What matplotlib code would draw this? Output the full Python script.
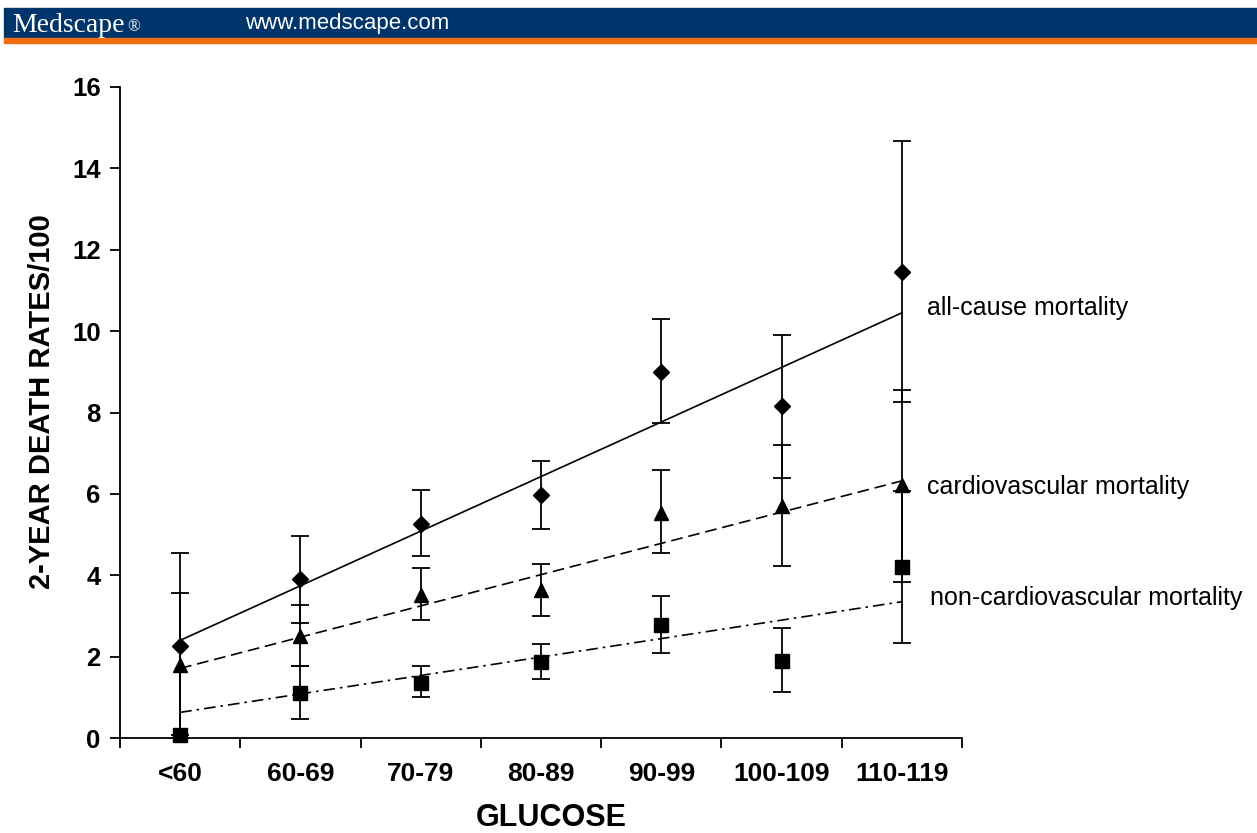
import matplotlib.pyplot as plt
from matplotlib.patches import Rectangle

# glucose categories
categories = ['<60', '60-69', '70-79', '80-89', '90-99', '100-109', '110-119']

# all-cause mortality: rate, lower and upper error bar
allcause = [2.26, 3.90, 5.27, 5.97, 9.00, 8.15, 11.45]
allcause_lo = [0.00, 2.83, 4.47, 5.13, 7.73, 6.40, 8.25]
allcause_hi = [4.54, 4.97, 6.09, 6.81, 10.29, 9.90, 14.67]

# cardiovascular mortality
cardio = [1.79, 2.51, 3.51, 3.64, 5.52, 5.70, 6.22]
cardio_lo = [0.00, 1.77, 2.90, 2.99, 4.54, 4.22, 3.84]
cardio_hi = [3.57, 3.27, 4.17, 4.28, 6.58, 7.20, 8.55]

# non-cardiovascular mortality
noncardio = [0.07, 1.11, 1.34, 1.86, 2.78, 1.90, 4.20]
noncardio_lo = [0.00, 0.46, 1.00, 1.44, 2.08, 1.12, 2.33]
noncardio_hi = [0.07, 1.77, 1.77, 2.31, 3.49, 2.70, 6.07]

# linear trend lines: value at first and last category
allcause_trend = [2.40, 10.45]
cardio_trend = [1.71, 6.32]
noncardio_trend = [0.63, 3.35]

plt.rcParams['font.family'] = ['Liberation Sans', 'DejaVu Sans']

fig = plt.figure(figsize=(12.57, 8.33), dpi=100)

# Medscape header band
fig.patches.append(Rectangle((4 / 1257, 1 - 38 / 833), 1, 30 / 833,
                             transform=fig.transFigure, color='#00356b', zorder=0))
fig.patches.append(Rectangle((4 / 1257, 1 - 43 / 833), 1, 5 / 833,
                             transform=fig.transFigure, color='#f26d12', zorder=0))
fig.text(12 / 1257, 1 - 32 / 833, 'Medscape', color='white', fontsize=20,
         family=['Liberation Serif', 'DejaVu Serif'], va='baseline', ha='left')
fig.text(127 / 1257, 1 - 31 / 833, '\u00ae', color='white', fontsize=12,
         family=['Liberation Serif', 'DejaVu Serif'], va='baseline', ha='left')
fig.text(245 / 1257, 1 - 23 / 833, 'www.medscape.com', color='white', fontsize=16,
         va='center', ha='left')

ax = fig.add_axes([120 / 1257, 1 - 738 / 833, 842 / 1257, 651 / 833])
x = list(range(len(categories)))


def err(vals, lo, hi):
    return [[v - l for v, l in zip(vals, lo)], [h - v for v, h in zip(vals, hi)]]


ebkw = dict(color='black', ecolor='black', elinewidth=1.3, capsize=6.5,
            capthick=1.3, linestyle='none', clip_on=False, zorder=3)
ax.errorbar(x, allcause, yerr=err(allcause, allcause_lo, allcause_hi),
            fmt='D', markersize=8.5, **ebkw)
ax.errorbar(x, cardio, yerr=err(cardio, cardio_lo, cardio_hi),
            fmt='^', markersize=10.5, **ebkw)
ax.errorbar(x, noncardio, yerr=err(noncardio, noncardio_lo, noncardio_hi),
            fmt='s', markersize=9.5, **ebkw)

ends = [x[0], x[-1]]
ax.plot(ends, allcause_trend, color='black', lw=1.2, zorder=2)
ax.plot(ends, cardio_trend, color='black', lw=1.2, dashes=(7, 3.5), zorder=2)
ax.plot(ends, noncardio_trend, color='black', lw=1.2, dashes=(7, 3, 1.5, 3), zorder=2)

ax.set_xlim(-0.5, len(categories) - 0.5)
ax.set_ylim(0, 16)
ax.set_yticks(range(0, 17, 2))
ax.set_xticks([i - 0.5 for i in range(len(categories) + 1)])
ax.set_xticklabels([])
ax.set_xticks(x, minor=True)
ax.set_xticklabels(categories, minor=True, fontsize=19, fontweight='bold')
ax.tick_params(axis='x', which='major', direction='out', length=7, width=1.3)
ax.tick_params(axis='x', which='minor', length=0, pad=17)
ax.tick_params(axis='y', direction='out', length=7, width=1.3, pad=7,
               labelsize=18.5)
for lab in ax.get_yticklabels():
    lab.set_fontweight('bold')

for s in ['top', 'right']:
    ax.spines[s].set_visible(False)
for s in ['left', 'bottom']:
    ax.spines[s].set_linewidth(1.3)

fig.text(42 / 1257, 1 - 402 / 833, '2-YEAR DEATH RATES/100', rotation=90,
         fontsize=21, fontweight='bold', ha='center', va='center')
fig.text(551 / 1257, 1 - 818 / 833, 'GLUCOSE', fontsize=22, fontweight='bold',
         ha='center', va='center')

fig.text(927 / 1257, 1 - 308 / 833, 'all-cause mortality', fontsize=18,
         ha='left', va='center')
fig.text(927 / 1257, 1 - 487 / 833, 'cardiovascular mortality', fontsize=18,
         ha='left', va='center')
fig.text(930 / 1257, 1 - 598 / 833, 'non-cardiovascular mortality', fontsize=18,
         ha='left', va='center')

fig.savefig('out.png', dpi=100)
